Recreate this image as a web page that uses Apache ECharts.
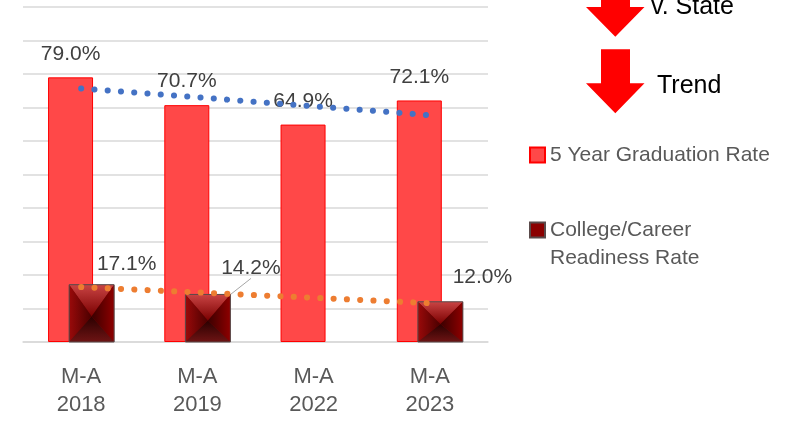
<!DOCTYPE html>
<html>
<head>
<meta charset="utf-8">
<title>Graduation and College/Career Readiness</title>
<script src="https://cdn.jsdelivr.net/npm/echarts@6/dist/echarts.min.js"></script>
<style>
  html, body { margin: 0; padding: 0; background: #fff; }
  #chart { width: 794px; height: 421px; }
</style>
</head>
<body>
<div id="chart"></div>
<script>
// data
var categories = ['M-A\n2018', 'M-A\n2019', 'M-A\n2022', 'M-A\n2023'];
var gradRate = [79.0, 70.7, 64.9, 72.1];
var ccrRate = [17.1, 14.2, null, 12.0];
// trendline ends (first and last category)
var gradTrend = [75.7, null, null, 67.7];
var ccrTrend = [16.4, null, null, 11.6];

// where the readiness labels were moved to (dx, dy)
var ccrLabelShift = [[35, -5], [43, -11], [0, 0], [42, -9]];

var FONT = '"Liberation Sans", Arial, sans-serif';
var CCR_OFFSET = 10.5;   // px, second bar sits right of category centre
var BAR_W = 45;

function pct(p) { return p.value.toFixed(1) + '%'; }
function dash(v) { return v === null ? '-' : v; }

function grad(x, y, x2, y2, c1, c2) {
    return { type: 'linear', x: x, y: y, x2: x2, y2: y2,
             colorStops: [{ offset: 0, color: c1 }, { offset: 1, color: c2 }] };
}

// pyramid look of the readiness bars (4 triangles meeting in one point)
function pyramid(params, api) {
    var top = api.coord([api.value(0), api.value(1)]);
    var base = api.coord([api.value(0), 0]);
    var cx = top[0] + CCR_OFFSET;
    var x0 = cx - BAR_W / 2, x1 = cx + BAR_W / 2;
    var y0 = top[1], y1 = base[1];
    var apex = [cx, y0 + (y1 - y0) * 0.55];
    return {
        type: 'group',
        children: [
            { type: 'polygon', shape: { points: [[x0, y0], [x1, y0], apex] },
              style: { fill: grad(0, 0, 0, 1, '#c94444', '#7a0000') } },
            { type: 'polygon', shape: { points: [[x0, y0], apex, [x0, y1]] },
              style: { fill: grad(0, 0, 1, 0, '#9a0a0a', '#4a0000') } },
            { type: 'polygon', shape: { points: [[x1, y0], [x1, y1], apex] },
              style: { fill: grad(1, 0, 0, 0, '#8e0000', '#3a0000') } },
            { type: 'polygon', shape: { points: [[x0, y1], apex, [x1, y1]] },
              style: { fill: grad(0, 1, 0, 0, '#6e1414', '#2a0000') } },
            { type: 'rect', shape: { x: x0, y: y0, width: BAR_W, height: y1 - y0 },
              style: { fill: null, stroke: '#5a4a4a', lineWidth: 1 } }
        ]
    };
}

var chart = echarts.init(document.getElementById('chart'));

var option = {
    animation: false,
    textStyle: { fontFamily: FONT },
    grid: { left: 23, right: 306, top: 7, bottom: 79, containLabel: false },
    legend: [
        {
            left: 529, top: 141, padding: 0, icon: 'rect',
            itemWidth: 15, itemHeight: 15,
            textStyle: { color: '#595959', fontSize: 21, lineHeight: 28, fontFamily: FONT },
            data: ['5 Year Graduation Rate']
        },
        {
            left: 529, top: 188, padding: 0, icon: 'rect',
            itemWidth: 15, itemHeight: 15,
            textStyle: { color: '#595959', fontSize: 21, lineHeight: 28, fontFamily: FONT },
            formatter: function () { return '\nCollege/Career\nReadiness Rate'; },
            data: ['College/Career Readiness Rate']
        }
    ],
    xAxis: {
        type: 'category',
        data: categories,
        axisTick: { show: false },
        axisLine: { lineStyle: { color: '#d9d9d9', width: 1.5 } },
        axisLabel: { color: '#595959', fontSize: 22, lineHeight: 28, margin: 21, fontFamily: FONT }
    },
    yAxis: {
        type: 'value',
        min: 0, max: 100, interval: 10,
        axisLabel: { show: false },
        axisLine: { show: false },
        axisTick: { show: false },
        splitLine: { lineStyle: { color: '#d9d9d9', width: 1.5 } }
    },
    series: [
        {
            name: '5 Year Graduation Rate',
            type: 'bar',
            barWidth: BAR_W,
            barGap: '-53%',
            data: gradRate,
            itemStyle: { color: '#ff4848', borderColor: '#ff0000', borderWidth: 1 },
            label: {
                show: true, position: 'top', distance: 13,
                color: '#404040', fontSize: 21, fontFamily: FONT,
                formatter: pct
            },
            z: 2
        },
        {
            name: 'College/Career Readiness Rate',
            type: 'bar',
            barWidth: BAR_W,
            data: ccrRate.map(function (v, i) {
                return i === 1
                    ? { value: v, labelLine: { show: true, lineStyle: { color: '#a6a6a6', width: 1 } } }
                    : dash(v);
            }),
            itemStyle: { color: '#8b0000', borderColor: '#5a4a4a', borderWidth: 1 },
            label: {
                show: true, position: 'top', distance: 5,
                color: '#404040', fontSize: 21, fontFamily: FONT,
                formatter: pct
            },
            labelLine: { show: false },
            labelLayout: function (params) {
                var s = ccrLabelShift[params.dataIndex];
                return { dx: s[0], dy: s[1] };
            },
            z: 3
        },
        {
            name: 'ccr pyramid',
            type: 'custom',
            silent: true,
            renderItem: pyramid,
            encode: { x: 0, y: 1 },
            data: ccrRate.map(function (v, i) { return [i, v]; })
                .filter(function (d) { return d[1] !== null; }),
            z: 5
        },
        {
            name: 'Grad trend',
            type: 'line',
            data: gradTrend.map(dash),
            connectNulls: true,
            symbol: 'none',
            silent: true,
            lineStyle: { color: '#4472c4', width: 6, type: [0.1, 13.2], cap: 'round' },
            z: 6
        },
        {
            name: 'CCR trend',
            type: 'line',
            data: ccrTrend.map(dash),
            connectNulls: true,
            symbol: 'none',
            silent: true,
            lineStyle: { color: '#ed7d31', width: 6, type: [0.1, 13.2], cap: 'round' },
            z: 6
        }
    ],
    graphic: [
        {
            type: 'polygon',
            shape: { points: [[601, -20], [630, -20], [630, 7], [644.5, 7], [615.3, 36.7], [586, 7], [601, 7]] },
            style: { fill: '#ff0000' }
        },
        {
            type: 'polygon',
            shape: { points: [[601, 49.3], [630, 49.3], [630, 83.3], [644.5, 83.3], [615.3, 113.3], [586, 83.3], [601, 83.3]] },
            style: { fill: '#ff0000' }
        },
        {
            type: 'text', left: 651, top: -5,
            style: { text: 'v. State', fill: '#000', font: '25px ' + FONT }
        },
        {
            type: 'text', left: 657, top: 74,
            style: { text: 'Trend', fill: '#000', font: '25px ' + FONT }
        }
    ]
};

chart.setOption(option);
</script>
</body>
</html>
